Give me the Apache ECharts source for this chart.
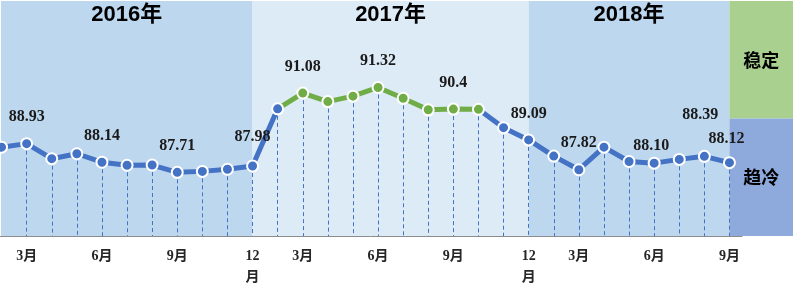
<!DOCTYPE html>
<html><head><meta charset="utf-8">
<script src="https://cdn.jsdelivr.net/npm/echarts@6/dist/echarts.min.js"></script>
<style>html,body{margin:0;padding:0;background:#fff}#c{width:794px;height:290px}</style>
</head><body><div id="c"></div>
<script>
// ---- data ----
const categories = [
  '2016-02','2016-03','2016-04','2016-05','2016-06','2016-07','2016-08','2016-09','2016-10','2016-11','2016-12',
  '2017-02','2017-03','2017-04','2017-05','2017-06','2017-07','2017-08','2017-09','2017-10','2017-11','2017-12',
  '2018-02','2018-03','2018-04','2018-05','2018-06','2018-07','2018-08','2018-09'
];
const values = [
  88.78, 88.93, 88.29, 88.50, 88.14, 88.01, 88.02, 87.71, 87.75, 87.84, 87.98,
  90.41, 91.08, 90.72, 90.95, 91.32, 90.86, 90.37, 90.40, 90.39, 89.61, 89.09,
  88.40, 87.82, 88.78, 88.17, 88.10, 88.26, 88.39, 88.12
];
const valueLabels = [
  '', '88.93', '', '', '88.14', '', '', '87.71', '', '', '87.98',
  '', '91.08', '', '', '91.32', '', '', '90.4', '', '', '89.09',
  '', '87.82', '', '', '88.10', '', '88.39', '88.12'
];
const tickLabels = [
  '', '3月', '', '', '6月', '', '', '9月', '', '', '12\n月',
  '', '3月', '', '', '6月', '', '', '9月', '', '', '12\n月',
  '', '3月', '', '', '6月', '', '', '9月'
];
const years = ['2016年', '2017年', '2018年'];
const yearEnds = ['2016-12', '2017-12', '2018-09'];
const stableRange = ['2017-03', '2017-10'];
const statusTexts = ['稳定', '趋冷'];
const statusThreshold = 90;
const yMin = 85, yMax = 95;

// ---- styles ----
const BLUE = '#4472C4', GREEN = '#70AD47';
const labelOffsets = { '2016-12': [0, -3], '2018-06': [-3, 9], '2018-08': [-4, -15], '2018-09': [-3, 3] };

const chart = echarts.init(document.getElementById('c'), null, { renderer: 'canvas' });

const stableStart = categories.indexOf(stableRange[0]);
const stableEnd = categories.indexOf(stableRange[1]);

const dataItems = values.map((v, i) => {
  const item = { value: v };
  if (valueLabels[i]) {
    item.label = { show: true, formatter: valueLabels[i], offset: labelOffsets[categories[i]] || [0, 0] };
  }
  return item;
});

const dropLines = values.map((v, i) => i === 0 ? null : [
  { coord: [i, v] }, { coord: [i, yMin] }
]).filter(Boolean);

const option = {
  animation: false,
  grid: { left: -11, right: 52, top: 1, bottom: 54, outerBoundsMode: 'none', containLabel: false },
  xAxis: {
    type: 'category',
    data: categories,
    boundaryGap: true,
    axisLine: { show: true, lineStyle: { color: '#8c8c8c', width: 1 } },
    axisTick: { show: false },
    axisLabel: {
      interval: 0,
      margin: 10,
      hideOverlap: false,
      formatter: (val, idx) => tickLabels[idx] || '',
      color: '#262626',
      fontFamily: '"Liberation Serif", "Noto Sans CJK SC", serif',
      fontWeight: 'bold',
      fontSize: 14,
      lineHeight: 21
    },
    splitLine: { show: false }
  },
  yAxis: {
    type: 'value', min: yMin, max: yMax,
    show: false, splitLine: { show: false }
  },
  visualMap: {
    show: false, type: 'piecewise', dimension: 0, seriesIndex: 0,
    pieces: [{ gt: stableStart - 1, lte: stableEnd, color: GREEN }],
    outOfRange: { color: BLUE }
  },
  series: [{
    type: 'line',
    data: dataItems,
    symbol: 'circle',
    symbolSize: 11,
    showAllSymbol: true,
    lineStyle: { width: 5 },
    itemStyle: { borderColor: '#fff', borderWidth: 2 },
    label: {
      show: false, position: 'top', distance: 12,
      color: '#1a1a1a',
      fontFamily: '"Liberation Serif", serif',
      fontWeight: 'bold', fontSize: 16
    },
    z: 3,
    markLine: {
      silent: true, z: 2, animation: false,
      symbol: ['none', 'none'],
      label: { show: false },
      lineStyle: { color: BLUE, width: 1, type: [4, 3] },
      emphasis: { disabled: true },
      data: dropLines
    }
  }]
};
chart.setOption(option);

// background panels computed through the axes
const px = name => chart.convertToPixel({ xAxisIndex: 0 }, name);
const py = v => chart.convertToPixel({ yAxisIndex: 0 }, v);
const W = chart.getWidth();
const topY = py(yMax), bottomY = py(yMin), midY = py(statusThreshold);
const bandColors = ['#BDD7EE', '#DDEBF7', '#BDD7EE'];
const elements = [];
let x0 = 1;
years.forEach((y, i) => {
  const x1 = px(yearEnds[i]);
  elements.push({ type: 'rect', z: -10, shape: { x: x0, y: topY, width: x1 - x0, height: bottomY - topY }, style: { fill: bandColors[i] }, silent: true });
  elements.push({ type: 'text', z: -5, style: { text: y, x: (x0 + x1) / 2, y: topY + 14, fill: '#000', font: 'bold 22px "Liberation Sans", "Noto Sans CJK SC", sans-serif', textAlign: 'center', textVerticalAlign: 'middle', verticalAlign: 'middle' }, silent: true });
  x0 = x1;
});
const pr = W - 1;
elements.push({ type: 'rect', z: -10, shape: { x: x0, y: topY, width: pr - x0, height: midY - topY }, style: { fill: '#A9D08E' }, silent: true });
elements.push({ type: 'rect', z: -10, shape: { x: x0, y: midY, width: pr - x0, height: bottomY - midY }, style: { fill: '#8EA9DB' }, silent: true });
elements.push({ type: 'text', z: -5, style: { text: statusTexts[0], x: (x0 + pr) / 2, y: (topY + midY) / 2, fill: '#000', font: 'bold 18px "Noto Sans CJK SC", sans-serif', textAlign: 'center', textVerticalAlign: 'middle', verticalAlign: 'middle' }, silent: true });
elements.push({ type: 'text', z: -5, style: { text: statusTexts[1], x: (x0 + pr) / 2, y: (midY + bottomY) / 2, fill: '#000', font: 'bold 18px "Noto Sans CJK SC", sans-serif', textAlign: 'center', textVerticalAlign: 'middle', verticalAlign: 'middle' }, silent: true });
chart.setOption({ graphic: { elements } });
</script>
</body></html>
